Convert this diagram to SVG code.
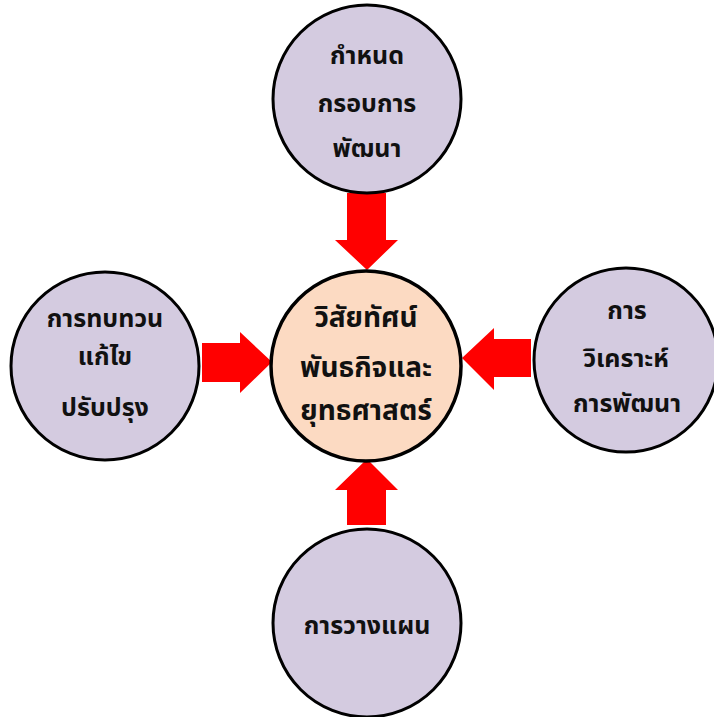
<svg xmlns="http://www.w3.org/2000/svg" width="714" height="717" viewBox="0 0 714 717">
<style>
.node{fill:#d4cbe0;stroke:#000;stroke-width:3}
.core{fill:#fcdac2;stroke:#000;stroke-width:3.5}
.t{font-family:"Noto Sans Thai","Noto Sans","DejaVu Sans",sans-serif;font-weight:bold;font-size:25px;fill:#111;text-anchor:middle}
.tc{font-size:28px}
.arrow{fill:#ff0000}
</style>
<rect width="714" height="717" fill="#fff"/>
<g id="connectors">
<polygon class="arrow" points="347,193 386,193 386,240 398,240 367,270 335,240 347,240"/>
<polygon class="arrow" points="347,525 386,525 386,490 398,490 367,459 335,490 347,490"/>
<polygon class="arrow" points="202,343 240,343 240,332 272,362 240,393 240,382 202,382"/>
<polygon class="arrow" points="531,339 494,339 494,328 462,358 494,390 494,377 531,377"/>
</g>
<g id="top">
<circle class="node" cx="367" cy="99" r="94"/>
<text class="t" x="367" y="64">กำหนด</text>
<text class="t" x="367" y="112">กรอบการ</text>
<text class="t" x="367" y="157">พัฒนา</text>
</g>
<g id="left">
<circle class="node" cx="105" cy="366" r="94"/>
<text class="t" x="105" y="327">การทบทวน</text>
<text class="t" x="105" y="365">แก้ไข</text>
<text class="t" x="105" y="416">ปรับปรุง</text>
</g>
<g id="right">
<circle class="node" cx="626" cy="360" r="92"/>
<text class="t" x="627" y="319">การ</text>
<text class="t" x="626" y="367">วิเคราะห์</text>
<text class="t" x="627" y="412">การพัฒนา</text>
</g>
<g id="bottom">
<circle class="node" cx="367" cy="623" r="94"/>
<text class="t" x="367" y="634">การวางแผน</text>
</g>
<g id="center">
<circle class="core" cx="366" cy="366" r="95"/>
<text class="t tc" x="366" y="327">วิสัยทัศน์</text>
<text class="t tc" x="366" y="377">พันธกิจและ</text>
<text class="t tc" x="366" y="420">ยุทธศาสตร์</text>
</g>
</svg>
